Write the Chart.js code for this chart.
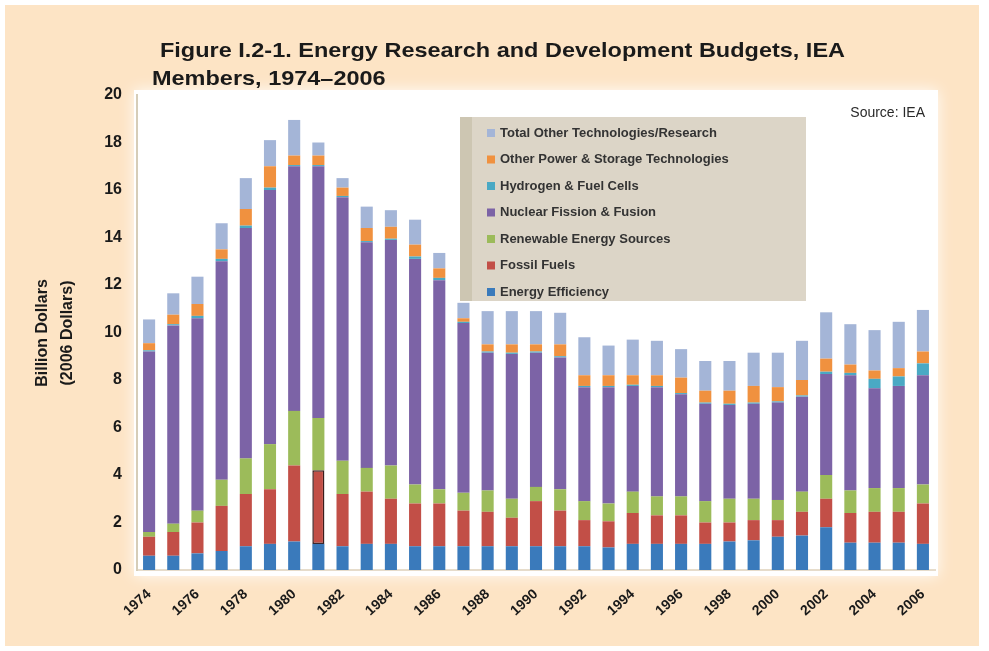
<!DOCTYPE html>
<html>
<head>
<meta charset="utf-8">
<script src="https://cdn.jsdelivr.net/npm/chart.js@4.4.1/dist/chart.umd.min.js"></script>
<style>
  html, body { margin: 0; padding: 0; background: #ffffff; }
  #chart { display: block; }
</style>
</head>
<body>
<canvas id="chart" width="989" height="651"></canvas>
<script>
// Values (billion 2006 dollars)
const years = ['1974', '1975', '1976', '1977', '1978', '1979', '1980', '1981', '1982', '1983', '1984',
    '1985', '1986', '1987', '1988', '1989', '1990', '1991', '1992', '1993', '1994', '1995',
    '1996', '1997', '1998', '1999', '2000', '2001', '2002', '2003', '2004', '2005', '2006'];

const energyEfficiency = [0.6, 0.6, 0.7, 0.8, 1.0, 1.1, 1.2, 1.1, 1.0, 1.1, 1.1,
    1.0, 1.0, 1.0, 1.0, 1.0, 1.0, 1.0, 1.0, 0.95, 1.1, 1.1,
    1.1, 1.1, 1.2, 1.25, 1.4, 1.45, 1.8, 1.15, 1.15, 1.15, 1.1];
const fossilFuels = [0.8, 1.0, 1.3, 1.9, 2.2, 2.3, 3.2, 3.1, 2.2, 2.2, 1.9,
    1.8, 1.8, 1.5, 1.45, 1.2, 1.9, 1.5, 1.1, 1.1, 1.3, 1.2,
    1.2, 0.9, 0.8, 0.85, 0.7, 1.0, 1.2, 1.25, 1.3, 1.3, 1.7];
const renewables = [0.2, 0.35, 0.5, 1.1, 1.5, 1.9, 2.3, 2.2, 1.4, 1.0, 1.4,
    0.8, 0.6, 0.75, 0.9, 0.8, 0.6, 0.9, 0.8, 0.75, 0.9, 0.8,
    0.8, 0.9, 1.0, 0.9, 0.85, 0.85, 1.0, 0.95, 1.0, 1.0, 0.8];
const nuclear = [7.6, 8.35, 8.1, 9.2, 9.7, 10.7, 10.3, 10.6, 11.1, 9.5, 9.5,
    9.5, 8.8, 7.15, 5.8, 6.1, 5.65, 5.55, 4.8, 4.9, 4.45, 4.6,
    4.3, 4.1, 3.95, 4.0, 4.1, 4.0, 4.25, 4.85, 4.2, 4.3, 4.6];
const hydrogen = [0.05, 0.05, 0.1, 0.1, 0.1, 0.1, 0.05, 0.05, 0.05, 0.05, 0.05,
    0.1, 0.1, 0.05, 0.05, 0.05, 0.05, 0.05, 0.05, 0.05, 0.05, 0.05,
    0.05, 0.05, 0.05, 0.05, 0.05, 0.05, 0.1, 0.1, 0.4, 0.4, 0.5];
const otherPower = [0.3, 0.4, 0.5, 0.4, 0.7, 0.9, 0.4, 0.4, 0.35, 0.55, 0.5,
    0.5, 0.4, 0.15, 0.3, 0.35, 0.3, 0.5, 0.45, 0.45, 0.4, 0.45,
    0.65, 0.5, 0.55, 0.7, 0.6, 0.65, 0.55, 0.35, 0.35, 0.35, 0.5];
const otherTech = [1.0, 0.9, 1.15, 1.1, 1.3, 1.1, 1.5, 0.55, 0.4, 0.9, 0.7,
    1.05, 0.65, 0.65, 1.4, 1.4, 1.4, 1.33, 1.6, 1.25, 1.5, 1.45,
    1.2, 1.25, 1.25, 1.4, 1.45, 1.65, 1.95, 1.7, 1.7, 1.95, 1.75];

const seriesNames = ['Energy Efficiency', 'Fossil Fuels', 'Renewable Energy Sources',
    'Nuclear Fission & Fusion', 'Hydrogen & Fuel Cells',
    'Other Power & Storage Technologies', 'Total Other Technologies/Research'];
const seriesColors = ['#3a7abb', '#c24f47', '#9cbb5a', '#7c63a6', '#4aa9c4', '#f0913f', '#a4b5d7'];
const seriesValues = [energyEfficiency, fossilFuels, renewables, nuclear, hydrogen, otherPower, otherTech];

const FONT = '"Liberation Sans", Arial, sans-serif';

// Backgrounds, titles, source note and the boxed legend
const decorations = {
    id: 'decorations',
    beforeDraw(chart) {
        const ctx = chart.ctx;
        ctx.save();
        ctx.fillStyle = '#ffffff';
        ctx.fillRect(0, 0, chart.width, chart.height);
        ctx.fillStyle = '#fde4c5';
        ctx.fillRect(5, 5, 974, 641);
        // white plot panel with soft edges
        ctx.shadowColor = 'rgba(255,255,255,0.9)';
        ctx.shadowBlur = 14;
        ctx.fillStyle = '#ffffff';
        ctx.fillRect(134, 90, 804, 486);
        ctx.restore();
    },
    afterDraw(chart) {
        const ctx = chart.ctx;
        ctx.save();
        ctx.fillStyle = '#1a1a1a';
        ctx.textBaseline = 'alphabetic';

        // title, stretched a little to match the wide original face
        ctx.font = 'bold 21px ' + FONT;
        const line1 = 'Figure I.2-1. Energy Research and Development Budgets, IEA';
        const sx = 685 / ctx.measureText(line1).width;
        ctx.save();
        ctx.translate(160, 57);
        ctx.scale(sx, 1);
        ctx.fillText(line1, 0, 0);
        ctx.restore();
        ctx.save();
        ctx.translate(152, 85);
        ctx.scale(sx, 1);
        ctx.fillText('Members, 1974\u20132006', 0, 0);
        ctx.restore();

        // y axis title
        ctx.font = 'bold 16px ' + FONT;
        ctx.textAlign = 'center';
        ctx.textBaseline = 'middle';
        ctx.save();
        ctx.translate(43, 333);
        ctx.rotate(-Math.PI / 2);
        ctx.fillText('Billion Dollars', 0, 0);
        ctx.restore();
        ctx.save();
        ctx.translate(68, 333);
        ctx.rotate(-Math.PI / 2);
        ctx.fillText('(2006 Dollars)', 0, 0);
        ctx.restore();

        // source note
        ctx.font = '14px ' + FONT;
        ctx.fillStyle = '#2a2a2a';
        ctx.textAlign = 'right';
        ctx.fillText('Source: IEA', 925, 113);

        // legend box
        ctx.fillStyle = '#dcd5c7';
        ctx.fillRect(460, 117, 346, 184);
        ctx.fillStyle = '#cdc6b2';
        ctx.fillRect(460, 117, 12, 184);
        ctx.font = 'bold 13px ' + FONT;
        ctx.textAlign = 'left';
        ctx.textBaseline = 'middle';
        const datasets = chart.data.datasets;
        for (let k = 0; k < datasets.length; k++) {
            const ds = datasets[datasets.length - 1 - k];
            const y = 133 + k * 26.5;
            ctx.fillStyle = ds.backgroundColor;
            ctx.fillRect(487, y - 4, 8, 8);
            ctx.fillStyle = '#333333';
            ctx.fillText(ds.label, 500, y);
        }
        ctx.restore();
    }
};

const ctx = document.getElementById('chart');
new Chart(ctx, {
    type: 'bar',
    data: {
        labels: years,
        datasets: seriesNames.map((name, i) => ({
            label: name,
            data: seriesValues[i],
            backgroundColor: seriesColors[i],
            // the 1981 fossil fuel segment is outlined in the original
            borderColor: '#3b1c1c',
            borderWidth: (c) => (i === 1 && c.dataIndex === 7) ? 1.5 : 0,
            borderSkipped: false,
            categoryPercentage: 1.0,
            barPercentage: 0.5
        }))
    },
    options: {
        responsive: false,
        animation: false,
        devicePixelRatio: 1,
        layout: { padding: { top: 95, left: 0, right: 54, bottom: 0 } },
        plugins: {
            legend: { display: false },
            title: { display: false },
            tooltip: { enabled: false }
        },
        scales: {
            x: {
                stacked: true,
                grid: { display: false },
                border: { display: true, color: '#e6dccb', width: 2 },
                ticks: {
                    autoSkip: false,
                    minRotation: 42,
                    maxRotation: 42,
                    padding: 8,
                    color: '#1a1a1a',
                    font: { family: FONT, size: 14, weight: 'bold' },
                    callback: (value, index) => index % 2 === 0 ? years[index] : ''
                },
                afterFit: (axis) => { axis.height = 81; }
            },
            y: {
                stacked: true,
                min: 0,
                max: 20,
                grid: { display: false, drawTicks: false },
                border: { display: true, color: '#d6cdb8', width: 2 },
                ticks: {
                    stepSize: 2,
                    padding: 15,
                    color: '#1a1a1a',
                    font: { family: FONT, size: 16, weight: 'bold' }
                },
                afterFit: (axis) => { axis.width = 137; }
            }
        }
    },
    plugins: [decorations]
});
</script>
</body>
</html>
